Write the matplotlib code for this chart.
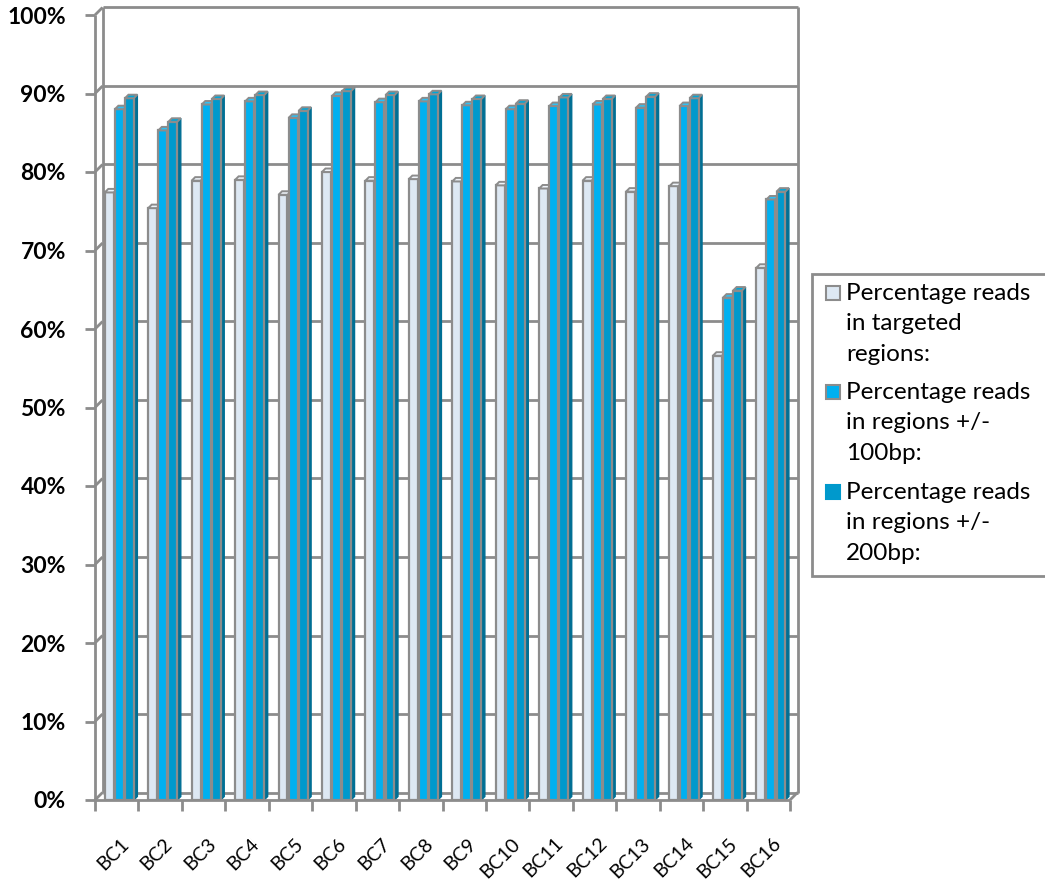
import matplotlib
matplotlib.use('Agg')
import matplotlib.pyplot as plt
from matplotlib.patches import Polygon, Rectangle
import numpy as np

plt.rcParams['font.family'] = ['Lato', 'DejaVu Sans']

samples = ['BC1', 'BC2', 'BC3', 'BC4', 'BC5', 'BC6', 'BC7', 'BC8',
           'BC9', 'BC10', 'BC11', 'BC12', 'BC13', 'BC14', 'BC15', 'BC16']
targeted = [77.4, 75.4, 78.9, 79.0, 77.1, 80.0, 78.9, 79.1,
            78.8, 78.3, 77.9, 78.9, 77.5, 78.2, 56.6, 67.8]
plus_100 = [88.0, 85.3, 88.6, 89.0, 86.9, 89.7, 88.9, 89.0,
            88.5, 88.0, 88.4, 88.6, 88.2, 88.4, 64.0, 76.5]
plus_200 = [89.4, 86.4, 89.3, 89.8, 87.8, 90.3, 89.8, 89.9,
            89.3, 88.7, 89.5, 89.3, 89.6, 89.4, 64.9, 77.5]
series_labels = ['Percentage reads\nin targeted\nregions:',
                 'Percentage reads\nin regions +/-\n100bp:',
                 'Percentage reads\nin regions +/-\n200bp:']

face = ['#dde8f3', '#00b0f0', '#0099cc']
top_face = ['#eef3f9', '#2ec0f4', '#00a6d8']
side_face = ['#b9c9d8', '#0088bb', '#006f94']
edge = '#8c8c8c'
grid_c = '#8c8c8c'

fig = plt.figure(figsize=(10.45, 8.84), dpi=100)
fig.patch.set_facecolor('white')
ax = fig.add_axes([95 / 1045, 1 - 800 / 884, 695 / 1045, 785 / 884])
ax.set_xlim(-0.5, 15.5)
ax.set_ylim(0, 100)
for s in ax.spines.values():
    s.set_visible(False)

# depth of the box, in data units
px_x = 16 / 695
px_y = 100 / 785
dx, dy = 7.5 * px_x, 7.5 * px_y
x0, x1 = -0.5, 15.5

def seg(xs, ys, lw=2.0, z=1):
    ax.plot(xs, ys, color=grid_c, lw=lw, zorder=z, clip_on=False,
            solid_capstyle='butt')

# back wall gridlines and side wall diagonals
for v in range(0, 101, 10):
    seg([x0 + dx, x1 + dx], [v + dy, v + dy])
    seg([x0, x0 + dx], [v, v + dy])
seg([x0, x0], [0, 100])
seg([x0 + dx, x0 + dx], [dy, 100 + dy])
seg([x1 + dx, x1 + dx], [dy, 100 + dy])
seg([x0, x1], [0, 0], z=4)
seg([x1, x1 + dx], [0, dy], z=4)

# columns with a small extruded top and side
idx = np.arange(len(samples))
bw = 0.205
step = 0.232
shift = 0.06
cd_x, cd_y = 3.5 * px_x, 3.5 * px_y
for k, vals in enumerate([targeted, plus_100, plus_200]):
    bars = ax.bar(idx + (k - 1) * step + shift, vals, width=bw,
                  color=face[k], edgecolor=edge, linewidth=1.6, zorder=3 + k * 0.1)
    for b in bars:
        x, w, h = b.get_x(), b.get_width(), b.get_height()
        ax.add_patch(Polygon([(x, h), (x + w, h), (x + w + cd_x, h + cd_y),
                              (x + cd_x, h + cd_y)], closed=True,
                             facecolor=top_face[k], edgecolor=edge, lw=1.4,
                             zorder=3 + k * 0.1))
        ax.add_patch(Polygon([(x + w, 0), (x + w + cd_x, cd_y),
                              (x + w + cd_x, h + cd_y), (x + w, h)], closed=True,
                             facecolor=side_face[k], edgecolor=edge if k < 2 else side_face[k],
                             lw=1.0, zorder=2.9 + k * 0.1))

# axes ticks
ax.set_yticks(range(0, 101, 10))
ax.set_yticklabels([f'{v}%' for v in range(0, 101, 10)], fontsize=16.5, fontweight='bold')
ax.tick_params(axis='y', length=7, width=2, color=grid_c, pad=14)
ax.set_xticks(np.arange(-0.5, 16, 1))
ax.set_xticklabels([])
ax.tick_params(axis='x', which='major', length=8, width=2, color=grid_c)
ax.set_xticks(idx + 0.08, minor=True)
ax.set_xticklabels(samples, minor=True, rotation=45, ha='right',
                   rotation_mode='anchor', fontsize=14)
ax.tick_params(axis='x', which='minor', length=0, pad=25)

# legend box
fig.patches.append(Rectangle((812 / 1045, 1 - 576 / 884), 260 / 1045, 302 / 884,
                             transform=fig.transFigure, facecolor='white',
                             edgecolor=grid_c, lw=2))
ys = [293, 392, 492]
for k, lab in enumerate(series_labels):
    yc = ys[k]
    fig.patches.append(Rectangle((826 / 1045, 1 - (yc + 7) / 884), 14 / 1045, 14 / 884,
                                 transform=fig.transFigure, facecolor=face[k],
                                 edgecolor=edge if k < 2 else face[k], lw=1.5))
    fig.text(846 / 1045, 1 - (yc - 10) / 884, lab, fontsize=17.5, va='top', ha='left',
             linespacing=1.55)

fig.savefig('out.png', dpi=100, facecolor='white')
